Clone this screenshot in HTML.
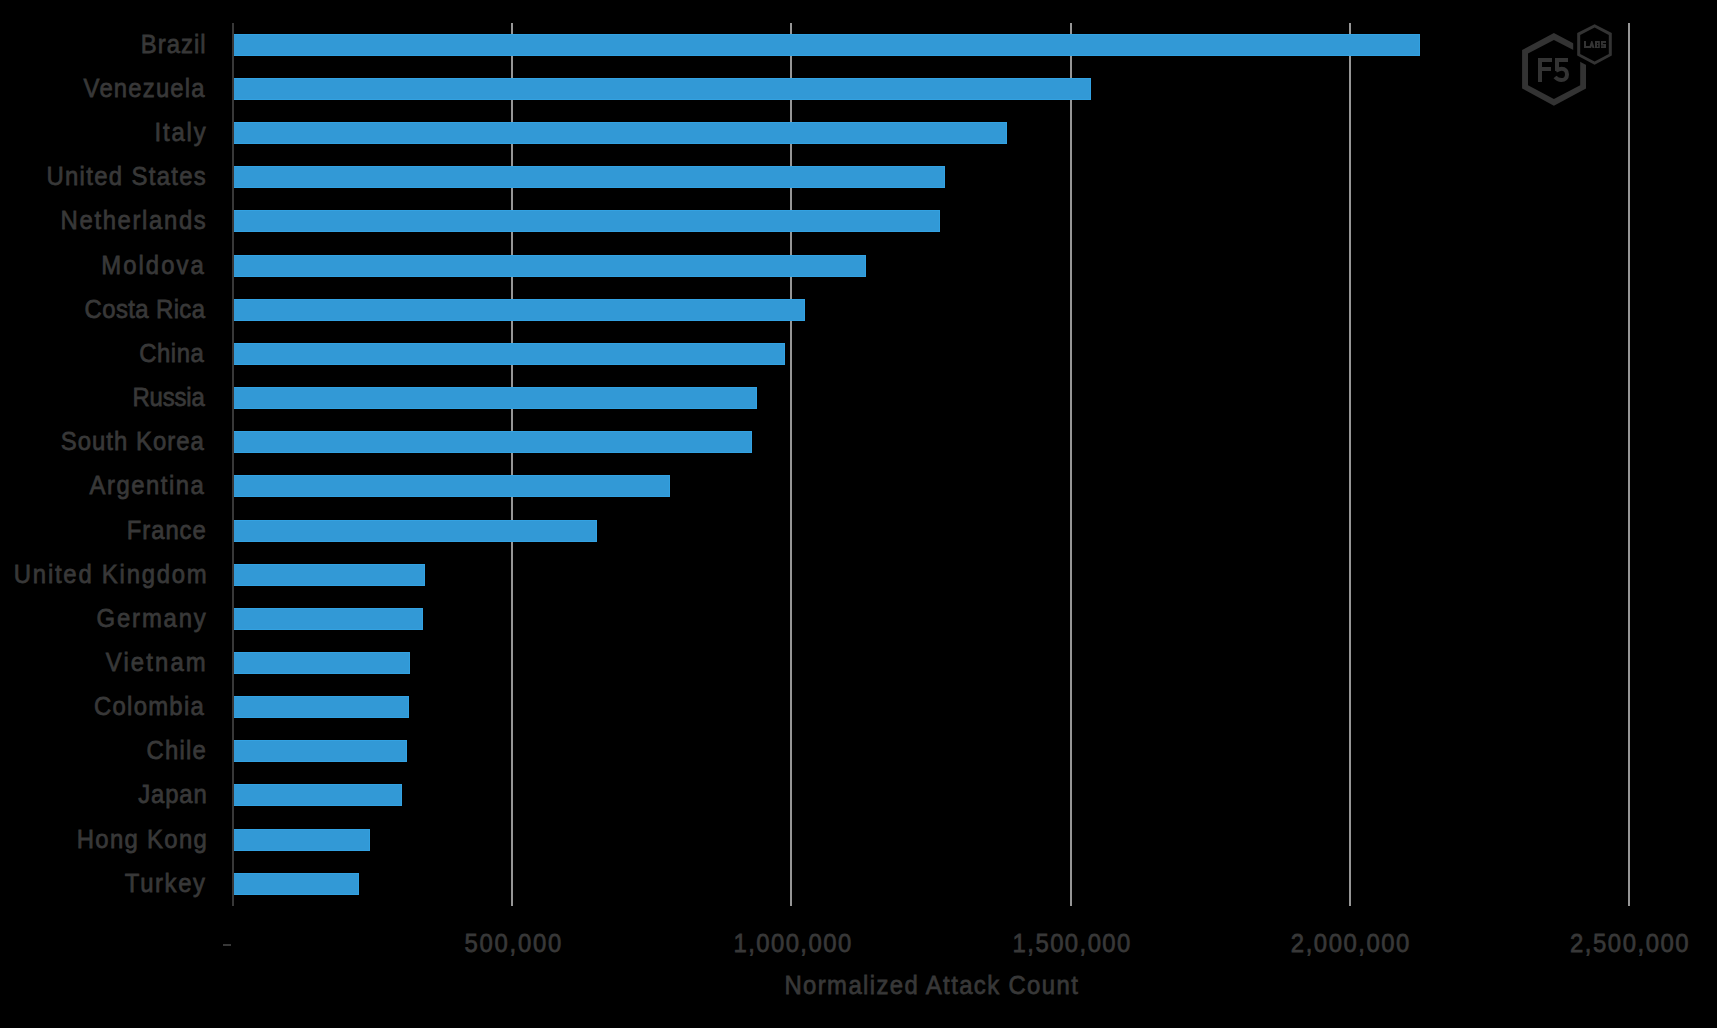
<!DOCTYPE html>
<html><head><meta charset="utf-8"><style>
html,body{margin:0;padding:0;background:#000;}
body{width:1717px;height:1028px;overflow:hidden;position:relative;}
svg{position:absolute;left:0;top:0;}
text{font-family:"Liberation Sans",sans-serif;}
</style></head><body>
<svg width="1717" height="1028" viewBox="0 0 1717 1028">
<rect x="0" y="0" width="1717" height="1028" fill="#000"/>
<rect x="511" y="23" width="2" height="883" fill="#969696"/>
<rect x="790" y="23" width="2" height="883" fill="#969696"/>
<rect x="1070" y="23" width="2" height="883" fill="#969696"/>
<rect x="1349" y="23" width="2" height="883" fill="#969696"/>
<rect x="1628" y="23" width="2" height="883" fill="#969696"/>
<rect x="233" y="34" width="1187" height="22" fill="#33a2e2"/><rect x="234" y="35" width="1185" height="20" fill="#3299d6"/>
<rect x="233" y="78" width="858" height="22" fill="#33a2e2"/><rect x="234" y="79" width="856" height="20" fill="#3299d6"/>
<rect x="233" y="122" width="774" height="22" fill="#33a2e2"/><rect x="234" y="123" width="772" height="20" fill="#3299d6"/>
<rect x="233" y="166" width="712" height="22" fill="#33a2e2"/><rect x="234" y="167" width="710" height="20" fill="#3299d6"/>
<rect x="233" y="210" width="707" height="22" fill="#33a2e2"/><rect x="234" y="211" width="705" height="20" fill="#3299d6"/>
<rect x="233" y="255" width="633" height="22" fill="#33a2e2"/><rect x="234" y="256" width="631" height="20" fill="#3299d6"/>
<rect x="233" y="299" width="572" height="22" fill="#33a2e2"/><rect x="234" y="300" width="570" height="20" fill="#3299d6"/>
<rect x="233" y="343" width="552" height="22" fill="#33a2e2"/><rect x="234" y="344" width="550" height="20" fill="#3299d6"/>
<rect x="233" y="387" width="524" height="22" fill="#33a2e2"/><rect x="234" y="388" width="522" height="20" fill="#3299d6"/>
<rect x="233" y="431" width="519" height="22" fill="#33a2e2"/><rect x="234" y="432" width="517" height="20" fill="#3299d6"/>
<rect x="233" y="475" width="437" height="22" fill="#33a2e2"/><rect x="234" y="476" width="435" height="20" fill="#3299d6"/>
<rect x="233" y="520" width="364" height="22" fill="#33a2e2"/><rect x="234" y="521" width="362" height="20" fill="#3299d6"/>
<rect x="233" y="564" width="192" height="22" fill="#33a2e2"/><rect x="234" y="565" width="190" height="20" fill="#3299d6"/>
<rect x="233" y="608" width="190" height="22" fill="#33a2e2"/><rect x="234" y="609" width="188" height="20" fill="#3299d6"/>
<rect x="233" y="652" width="177" height="22" fill="#33a2e2"/><rect x="234" y="653" width="175" height="20" fill="#3299d6"/>
<rect x="233" y="696" width="176" height="22" fill="#33a2e2"/><rect x="234" y="697" width="174" height="20" fill="#3299d6"/>
<rect x="233" y="740" width="174" height="22" fill="#33a2e2"/><rect x="234" y="741" width="172" height="20" fill="#3299d6"/>
<rect x="233" y="784" width="169" height="22" fill="#33a2e2"/><rect x="234" y="785" width="167" height="20" fill="#3299d6"/>
<rect x="233" y="829" width="137" height="22" fill="#33a2e2"/><rect x="234" y="830" width="135" height="20" fill="#3299d6"/>
<rect x="233" y="873" width="126" height="22" fill="#33a2e2"/><rect x="234" y="874" width="124" height="20" fill="#3299d6"/>
<rect x="232" y="23" width="2" height="883" fill="#383838"/>
<text transform="translate(140.82,53) scale(0.92,1)" font-size="26" fill="#383838" stroke="#383838" stroke-width="0.75" textLength="70.39" lengthAdjust="spacing">Brazil</text>
<text transform="translate(83.62,97) scale(0.92,1)" font-size="26" fill="#383838" stroke="#383838" stroke-width="0.75" textLength="131.48" lengthAdjust="spacing">Venezuela</text>
<text transform="translate(154.42,141) scale(0.92,1)" font-size="26" fill="#383838" stroke="#383838" stroke-width="0.75" textLength="55.83" lengthAdjust="spacing">Italy</text>
<text transform="translate(46.42,185) scale(0.92,1)" font-size="26" fill="#383838" stroke="#383838" stroke-width="0.75" textLength="173.22" lengthAdjust="spacing">United States</text>
<text transform="translate(60.62,229) scale(0.92,1)" font-size="26" fill="#383838" stroke="#383838" stroke-width="0.75" textLength="157.78" lengthAdjust="spacing">Netherlands</text>
<text transform="translate(101.22,274) scale(0.92,1)" font-size="26" fill="#383838" stroke="#383838" stroke-width="0.75" textLength="111.48" lengthAdjust="spacing">Moldova</text>
<text transform="translate(84.62,318) scale(0.92,1)" font-size="26" fill="#383838" stroke="#383838" stroke-width="0.75" textLength="130.83" lengthAdjust="spacing">Costa Rica</text>
<text transform="translate(139.22,362) scale(0.92,1)" font-size="26" fill="#383838" stroke="#383838" stroke-width="0.75" textLength="70.17" lengthAdjust="spacing">China</text>
<text transform="translate(132.42,406) scale(0.92,1)" font-size="26" fill="#383838" stroke="#383838" stroke-width="0.75" textLength="78.65" lengthAdjust="spacing">Russia</text>
<text transform="translate(60.82,450) scale(0.92,1)" font-size="26" fill="#383838" stroke="#383838" stroke-width="0.75" textLength="155.39" lengthAdjust="spacing">South Korea</text>
<text transform="translate(89.62,494) scale(0.92,1)" font-size="26" fill="#383838" stroke="#383838" stroke-width="0.75" textLength="124.09" lengthAdjust="spacing">Argentina</text>
<text transform="translate(126.82,539) scale(0.92,1)" font-size="26" fill="#383838" stroke="#383838" stroke-width="0.75" textLength="85.83" lengthAdjust="spacing">France</text>
<text transform="translate(13.82,583) scale(0.92,1)" font-size="26" fill="#383838" stroke="#383838" stroke-width="0.75" textLength="209.74" lengthAdjust="spacing">United Kingdom</text>
<text transform="translate(96.62,627) scale(0.92,1)" font-size="26" fill="#383838" stroke="#383838" stroke-width="0.75" textLength="118.65" lengthAdjust="spacing">Germany</text>
<text transform="translate(105.82,671) scale(0.92,1)" font-size="26" fill="#383838" stroke="#383838" stroke-width="0.75" textLength="108.65" lengthAdjust="spacing">Vietnam</text>
<text transform="translate(94.02,715) scale(0.92,1)" font-size="26" fill="#383838" stroke="#383838" stroke-width="0.75" textLength="119.30" lengthAdjust="spacing">Colombia</text>
<text transform="translate(146.62,759) scale(0.92,1)" font-size="26" fill="#383838" stroke="#383838" stroke-width="0.75" textLength="64.30" lengthAdjust="spacing">Chile</text>
<text transform="translate(138.22,803) scale(0.92,1)" font-size="26" fill="#383838" stroke="#383838" stroke-width="0.75" textLength="74.52" lengthAdjust="spacing">Japan</text>
<text transform="translate(76.82,848) scale(0.92,1)" font-size="26" fill="#383838" stroke="#383838" stroke-width="0.75" textLength="141.26" lengthAdjust="spacing">Hong Kong</text>
<text transform="translate(124.82,892) scale(0.92,1)" font-size="26" fill="#383838" stroke="#383838" stroke-width="0.75" textLength="87.13" lengthAdjust="spacing">Turkey</text>
<text transform="translate(464.42,952) scale(0.92,1)" font-size="26" fill="#383838" stroke="#383838" stroke-width="0.75" textLength="105.39" lengthAdjust="spacing">500,000</text>
<text transform="translate(733.42,952) scale(0.92,1)" font-size="26" fill="#383838" stroke="#383838" stroke-width="0.75" textLength="128.00" lengthAdjust="spacing">1,000,000</text>
<text transform="translate(1012.62,952) scale(0.92,1)" font-size="26" fill="#383838" stroke="#383838" stroke-width="0.75" textLength="128.00" lengthAdjust="spacing">1,500,000</text>
<text transform="translate(1290.82,952) scale(0.92,1)" font-size="26" fill="#383838" stroke="#383838" stroke-width="0.75" textLength="128.87" lengthAdjust="spacing">2,000,000</text>
<text transform="translate(1570.02,952) scale(0.92,1)" font-size="26" fill="#383838" stroke="#383838" stroke-width="0.75" textLength="128.87" lengthAdjust="spacing">2,500,000</text>
<text transform="translate(784.42,994) scale(0.92,1)" font-size="26" fill="#383838" stroke="#383838" stroke-width="0.75" textLength="318.87" lengthAdjust="spacing">Normalized Attack Count</text>
<rect x="223" y="944" width="8" height="2" fill="#383838"/>
<g fill="#333333">
<path fill-rule="evenodd" d="M1553.9,33.1 L1586,50 L1586,88.4 L1553.9,105.8 L1522.1,88.4 L1522.1,50 Z M1553.9,40 L1528.0,53.6 L1528.0,85.2 L1553.9,99 L1580.2,85.2 L1580.2,53.6 Z"/>
<path fill="#000" d="M1594.5,19.5 L1615.8,30.5 L1615.8,58 L1594.5,69.5 L1573.2,58 L1573.2,30.5 Z"/>
<path fill-rule="evenodd" d="M1594.6,24.2 L1611.8,33.1 L1611.8,55.5 L1594.6,64.8 L1577.2,55.5 L1577.2,33.1 Z M1594.6,27.6 L1580.2,34.9 L1580.2,54.1 L1594.6,61.4 L1608.8,54.1 L1608.8,34.9 Z"/>
<rect x="1538" y="58" width="4" height="24"/>
<rect x="1538" y="58" width="14" height="4"/>
<rect x="1538" y="67" width="13" height="4"/>
<rect x="1555" y="58" width="13" height="4"/>
<rect x="1555" y="58" width="4" height="13"/>
<path fill="none" stroke="#333333" stroke-width="4" d="M1556,70.6 C1558,69.6 1559.8,68.8 1561.6,68.8 C1565.2,68.8 1567,71.3 1567,74.4 C1567,77.8 1564.8,80 1561.4,80 C1558.8,80 1556.8,79 1555,77"/>
<rect x="1584" y="41" width="2" height="7"/>
<rect x="1584" y="46" width="6.5" height="2"/>
<path fill-rule="evenodd" d="M1589,48 L1591.2,41 L1592.4,41 L1594.6,48 Z M1591.1,48 L1591.8,46 L1592.5,48 Z"/>
<path fill-rule="evenodd" d="M1595,41 H1599.8 V48 H1595 Z M1597,42.8 H1598.2 V44 H1597 Z M1597,44.7 H1598.2 V46.7 H1597 Z"/>
<rect x="1601" y="41" width="5" height="1.9"/>
<rect x="1601" y="41" width="1.9" height="3.8"/>
<rect x="1601" y="44" width="5" height="1.7"/>
<rect x="1604.1" y="44" width="1.9" height="4"/>
<rect x="1601" y="46.2" width="5" height="1.8"/>
</g>

</svg></body></html>
